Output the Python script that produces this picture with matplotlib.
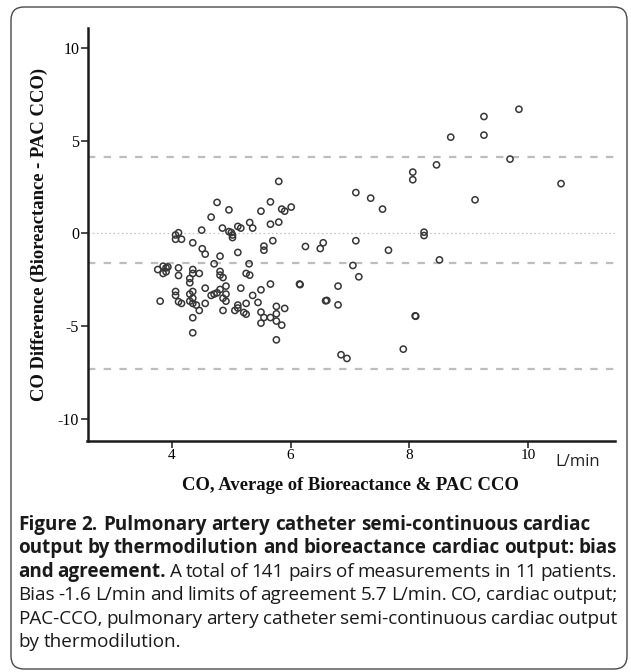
import matplotlib
matplotlib.use("Agg")
import matplotlib.pyplot as plt
import matplotlib.patches as mpatches

# ---------------- data ----------------
avg_co = [4.76, 4.96, 4.66, 4.50, 4.85, 4.96, 5.00, 5.02, 5.02, 5.11, 5.16, 5.31, 5.36,
          5.11, 4.51, 4.56, 4.81, 4.35, 4.06, 4.11, 4.06, 4.16, 4.71, 5.30,
          3.76, 3.85, 3.90, 3.85, 3.90, 3.93, 4.11, 4.11, 4.35, 4.30, 4.30, 4.35, 4.46,
          4.81, 4.81, 4.86, 5.25, 5.31, 4.56, 4.06, 4.06, 4.11, 4.16, 3.80, 4.30,
          4.35, 4.35, 4.30, 4.35, 4.41, 4.46, 4.56, 4.35, 4.35, 4.66, 4.71, 4.76,
          4.81, 4.86, 4.91, 4.91, 4.91, 4.86, 5.16, 5.11, 5.11, 5.06, 5.21, 5.25,
          5.25, 5.36,
          5.80, 5.66, 5.50, 5.85, 5.90, 6.01, 5.66, 5.80, 7.10, 7.35, 7.55, 5.70,
          5.55, 5.55, 6.25, 6.55, 6.50, 7.10, 7.65, 7.05, 7.15, 5.66, 5.50, 6.15,
          6.16, 6.80, 6.59, 6.61, 6.80, 5.45, 5.76, 5.90, 5.50, 5.76, 5.55, 5.66,
          5.50, 5.76, 5.85, 5.76, 6.85, 6.95,
          9.85, 9.26, 9.26, 8.70, 9.70, 8.46, 8.06, 8.06, 9.11, 8.25, 8.25, 8.51,
          8.10, 8.11, 7.90, 10.56]
diff_co = [1.67, 1.27, 0.88, 0.18, 0.29, 0.10, 0.05, -0.08, -0.22, 0.38, 0.29, 0.59, 0.29,
           -1.02, -0.82, -1.11, -1.22, -0.50, -0.08, 0.04, -0.31, -0.31, -1.63, -1.63,
           -1.94, -1.76, -1.85, -2.15, -2.06, -1.80, -1.85, -2.26, -1.94, -2.42, -2.65, -2.15, -2.15,
           -2.04, -2.24, -2.37, -2.15, -2.24, -2.94, -3.12, -3.33, -3.67, -3.76, -3.64, -3.26,
           -3.12, -3.48, -3.64, -3.76, -3.85, -4.14, -3.76, -4.53, -5.34, -3.33, -3.26, -3.19,
           -3.01, -3.48, -2.83, -3.26, -3.64, -4.14, -2.94, -3.85, -4.01, -4.14, -4.25, -3.76,
           -4.34, -3.33,
           2.80, 1.70, 1.20, 1.31, 1.20, 1.42, 0.50, 0.61, 2.20, 1.90, 1.31, -0.39,
           -0.68, -0.90, -0.70, -0.50, -0.81, -0.39, -0.90, -1.72, -2.33, -2.72, -3.03, -2.72,
           -2.75, -2.83, -3.62, -3.60, -3.84, -3.71, -3.92, -4.03, -4.23, -4.32, -4.52, -4.52,
           -4.82, -4.71, -4.93, -5.72, -6.52, -6.72,
           6.68, 6.29, 5.29, 5.18, 4.00, 3.69, 3.30, 2.89, 1.81, 0.07, -0.11, -1.42,
           -4.43, -4.45, -6.22, 2.68]

bias = -1.6
upper_loa = 4.1
lower_loa = -7.3

x_ticks = [4, 6, 8, 10]
y_ticks = [-10, -5, 0, 5, 10]

y_label = "CO Difference (Bioreactance - PAC CCO)"
x_label = "CO, Average of Bioreactance & PAC CCO"
unit_label = "L/min"

caption_lines = [
    [("Figure 2. Pulmonary artery catheter semi-continuous cardiac", "bold")],
    [("output by thermodilution and bioreactance cardiac output: bias", "bold")],
    [("and agreement.", "bold"), ("A total of 141 pairs of measurements in 11 patients.", "normal")],
    [("Bias -1.6 L/min and limits of agreement 5.7 L/min. CO, cardiac output;", "normal")],
    [("PAC-CCO, pulmonary artery catheter semi-continuous cardiac output", "normal")],
    [("by thermodilution.", "normal")],
]
justify = [False, True, True, True, True, False]

# ---------------- layout ----------------
W, H = 631, 672
plt.rcParams['lines.scale_dashes'] = False
fig = plt.figure(figsize=(W / 100, H / 100), dpi=100)

def fx(px):
    return px / W

def fy(py):
    return 1 - py / H

ax_l, ax_r, ax_t, ax_b = 87.5, 615, 28, 441
ax = fig.add_axes([fx(ax_l), fy(ax_b), fx(ax_r - ax_l), (ax_b - ax_t) / H])
ax.set_xlim(2.575, 11.47)
ax.set_ylim(-11.16, 11.05)

ax.axhline(0, color="#c4c4c4", lw=0.9, dashes=(1.2, 1.8), zorder=1)
for v in (upper_loa, bias, lower_loa):
    ax.axhline(v, color="#bdbdbd", lw=1.6, dashes=(5.3, 6.0), zorder=1)

ax.scatter(avg_co, diff_co, s=20, facecolors="none", edgecolors="#363636",
           linewidths=1.1, zorder=3)

for s in ("top", "right"):
    ax.spines[s].set_visible(False)
for s in ("left", "bottom"):
    ax.spines[s].set_linewidth(1.8)
    ax.spines[s].set_color("#1a1a1a")

serif = "Liberation Serif"
ax.set_xticks(x_ticks)
ax.set_yticks(y_ticks)
ax.set_xticklabels([str(t) for t in x_ticks], family=serif, fontsize=11)
ax.set_yticklabels([str(t) for t in y_ticks], family=serif, fontsize=11.5)
ax.tick_params(direction="out", length=5, width=1.1, color="#1a1a1a", pad=1.0)

fig.text(fx(39), fy(234), y_label, rotation=90, ha="center", va="center",
         family=serif, fontweight="bold", fontsize=13.4, color="#111111")
fig.text(fx(350), fy(485), x_label, ha="center", va="center",
         family=serif, fontweight="bold", fontsize=13.4, color="#111111")
sans = "Open Sans"
fig.text(fx(578), fy(462), unit_label, ha="center", va="center",
         family=sans, fontsize=12, color="#222222")

# border box
box = mpatches.FancyBboxPatch((11, H - 669), 616, 662,
                              boxstyle="round,pad=0,rounding_size=13",
                              transform=None, facecolor="none",
                              edgecolor="#4a4a4a", linewidth=1.0)
fig.add_artist(box)

# caption with justification
fig.canvas.draw()
renderer = fig.canvas.get_renderer()
cap_size = 13.6

def text_w(s, weight):
    t = fig.text(0, 0, s, family=sans, fontsize=cap_size, fontweight=weight)
    w = t.get_window_extent(renderer).width
    t.remove()
    return w

cap_left, cap_right = 18, 617
base0, step = 530, 23.4
for i, segs in enumerate(caption_lines):
    words = []
    for txt, wt in segs:
        for wd in txt.split(" "):
            words.append((wd, wt))
    widths = [text_w(wd, wt) for wd, wt in words]
    space = text_w("a a", "normal") - text_w("aa", "normal")
    if justify[i] and len(words) > 1:
        gap = (cap_right - cap_left - sum(widths)) / (len(words) - 1)
        gap = max(gap, 0.35 * space)
    else:
        gap = space
    x = cap_left
    yb = base0 + i * step
    for (wd, wt), w in zip(words, widths):
        fig.text(fx(x), fy(yb), wd, family=sans, fontsize=cap_size,
                 fontweight=wt, va="baseline", ha="left", color="#1a1a1a")
        x += w + gap

fig.savefig("out.png", dpi=100)
